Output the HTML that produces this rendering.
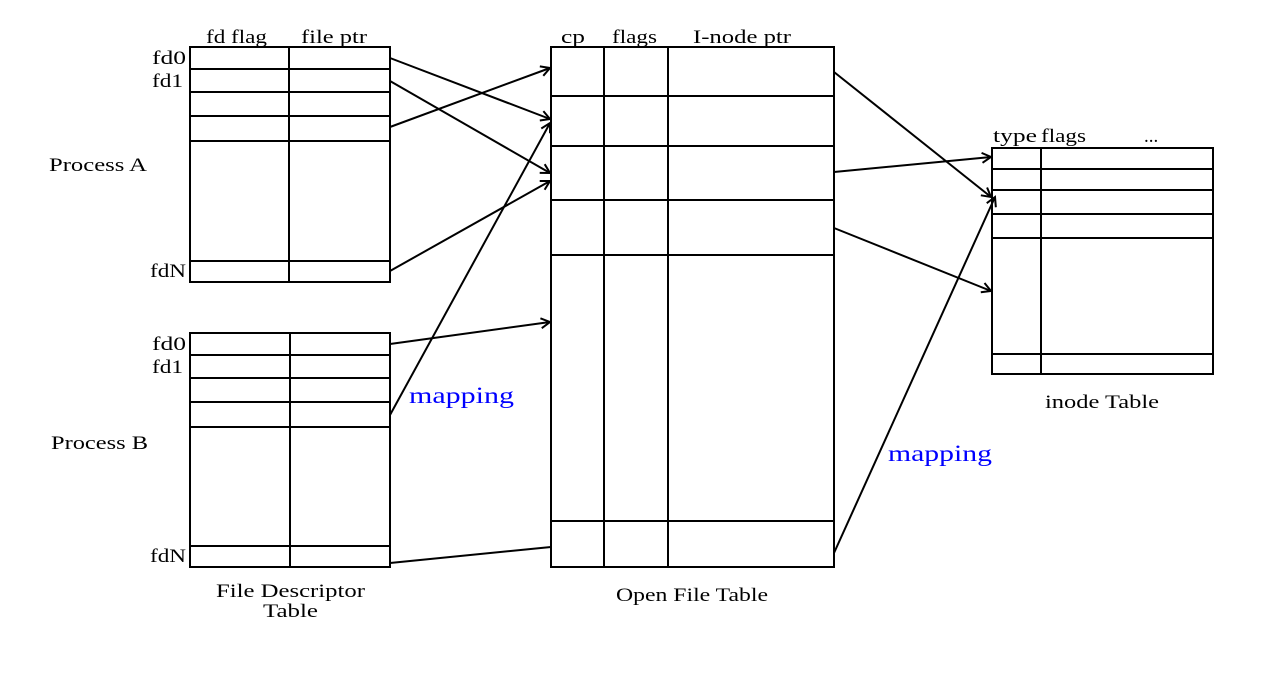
<!DOCTYPE html>
<html><head><meta charset="utf-8"><style>
html,body{margin:0;padding:0;background:#fff;}
svg{display:block;}
text{font-family:"Liberation Serif",serif;font-size:19px;fill:#000;}
.m{fill:#0000ff;font-size:23px;}
</style></head><body>
<svg width="1278" height="678" viewBox="0 0 1278 678" xmlns="http://www.w3.org/2000/svg">
<defs><marker id="a" markerWidth="12" markerHeight="12" refX="10" refY="6" orient="auto" markerUnits="userSpaceOnUse"><path d="M1,1 L10,6 L1,11" fill="none" stroke="#000" stroke-width="2"/></marker></defs>
<g fill="none" stroke="#000" stroke-width="2">
<rect x="190" y="47" width="200" height="235"/>
<line x1="289" y1="47" x2="289" y2="282"/>
<line x1="190" y1="69" x2="390" y2="69"/><line x1="190" y1="92" x2="390" y2="92"/>
<line x1="190" y1="116" x2="390" y2="116"/><line x1="190" y1="141" x2="390" y2="141"/>
<line x1="190" y1="261" x2="390" y2="261"/>
<rect x="190" y="333" width="200" height="234"/>
<line x1="290" y1="333" x2="290" y2="567"/>
<line x1="190" y1="355" x2="390" y2="355"/><line x1="190" y1="378" x2="390" y2="378"/>
<line x1="190" y1="402" x2="390" y2="402"/><line x1="190" y1="427" x2="390" y2="427"/>
<line x1="190" y1="546" x2="390" y2="546"/>
<rect x="551" y="47" width="283" height="520"/>
<line x1="604" y1="47" x2="604" y2="567"/><line x1="668" y1="47" x2="668" y2="567"/>
<line x1="551" y1="96" x2="834" y2="96"/><line x1="551" y1="146" x2="834" y2="146"/>
<line x1="551" y1="200" x2="834" y2="200"/><line x1="551" y1="255" x2="834" y2="255"/>
<line x1="551" y1="521" x2="834" y2="521"/>
<rect x="992" y="148" width="221" height="226"/>
<line x1="1041" y1="148" x2="1041" y2="374"/>
<line x1="992" y1="169" x2="1213" y2="169"/><line x1="992" y1="190" x2="1213" y2="190"/>
<line x1="992" y1="214" x2="1213" y2="214"/><line x1="992" y1="238" x2="1213" y2="238"/>
<line x1="992" y1="354" x2="1213" y2="354"/>
<g marker-end="url(#a)">
<line x1="390" y1="58" x2="550" y2="119"/>
<line x1="390" y1="81" x2="550" y2="173"/>
<line x1="390" y1="127" x2="550" y2="68"/>
<line x1="390" y1="271" x2="550" y2="181"/>
<line x1="390" y1="344" x2="550" y2="322"/>
<line x1="390" y1="415" x2="550" y2="123"/>
<line x1="834" y1="72" x2="991" y2="197"/>
<line x1="834" y1="172" x2="991" y2="157"/>
<line x1="834" y1="228" x2="991" y2="291"/>
<line x1="834" y1="553" x2="995" y2="197"/>
</g>
<line x1="390" y1="563" x2="551" y2="547"/>
</g>
<g lengthAdjust="spacingAndGlyphs">
<text x="206" y="43" textLength="61" lengthAdjust="spacingAndGlyphs">fd flag</text>
<text x="301" y="43" textLength="66" lengthAdjust="spacingAndGlyphs">file ptr</text>
<text x="561" y="43" textLength="24" lengthAdjust="spacingAndGlyphs">cp</text>
<text x="612" y="43" textLength="45" lengthAdjust="spacingAndGlyphs">flags</text>
<text x="693" y="43" textLength="98" lengthAdjust="spacingAndGlyphs">I-node ptr</text>
<text x="993" y="142" textLength="44" lengthAdjust="spacingAndGlyphs">type</text>
<text x="1041" y="142" textLength="45" lengthAdjust="spacingAndGlyphs">flags</text>
<text x="1144" y="142">...</text>
<text x="152" y="64" textLength="34" lengthAdjust="spacingAndGlyphs">fd0</text>
<text x="152" y="87" textLength="31" lengthAdjust="spacingAndGlyphs">fd1</text>
<text x="150" y="277" textLength="36" lengthAdjust="spacingAndGlyphs">fdN</text>
<text x="152" y="350" textLength="34" lengthAdjust="spacingAndGlyphs">fd0</text>
<text x="152" y="373" textLength="31" lengthAdjust="spacingAndGlyphs">fd1</text>
<text x="150" y="562" textLength="36" lengthAdjust="spacingAndGlyphs">fdN</text>
<text x="49" y="171" textLength="98" lengthAdjust="spacingAndGlyphs">Process A</text>
<text x="51" y="449" textLength="97" lengthAdjust="spacingAndGlyphs">Process B</text>
<text x="216" y="597" textLength="149" lengthAdjust="spacingAndGlyphs">File Descriptor</text>
<text x="263" y="617" textLength="55" lengthAdjust="spacingAndGlyphs">Table</text>
<text x="616" y="601" textLength="152" lengthAdjust="spacingAndGlyphs">Open File Table</text>
<text x="1045" y="408" textLength="114" lengthAdjust="spacingAndGlyphs">inode Table</text>
<text class="m" x="409" y="403" textLength="105" lengthAdjust="spacingAndGlyphs">mapping</text>
<text class="m" x="888" y="461" textLength="104" lengthAdjust="spacingAndGlyphs">mapping</text>
</g>
</svg>
</body></html>
